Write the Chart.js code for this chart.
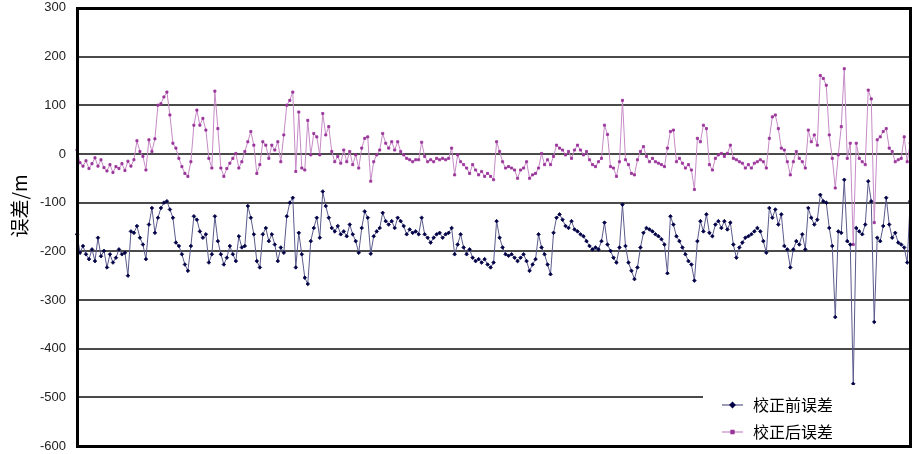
<!DOCTYPE html>
<html>
<head>
<meta charset="utf-8">
<script src="https://cdn.jsdelivr.net/npm/chart.js"></script>
<style>
  html, body { margin: 0; padding: 0; background: #fff; }
  #wrap { width: 915px; height: 454px; }
</style>
</head>
<body>
<div id="wrap"><canvas id="c" width="915" height="454"></canvas></div>
<script>
// 数据：校正前 / 校正后 误差 (m)
const seriesNames = ['校正前误差', '校正后误差'];
const yTicks = [300, 200, 100, 0, -100, -200, -300, -400, -500, -600];
const yTitle = '误差/m';

const before = [
  -165,-203,-189,-206,-216,-196,-220,-172,-210,-199,
  -233,-206,-223,-213,-196,-206,-203,-250,-159,-162,
  -148,-172,-186,-216,-145,-111,-162,-131,-111,-100,
  -97,-114,-131,-182,-189,-206,-227,-240,-189,-128,
  -135,-159,-172,-165,-223,-206,-128,-179,-206,-227,
  -213,-189,-206,-220,-169,-192,-189,-107,-131,-165,
  -220,-233,-165,-152,-179,-165,-186,-220,-192,-203,
  -128,-100,-90,-233,-162,-206,-254,-267,-179,-152,
  -131,-172,-77,-107,-131,-152,-159,-148,-165,-159,
  -169,-145,-165,-179,-203,-152,-118,-131,-205,-169,
  -159,-152,-121,-138,-145,-138,-152,-131,-138,-148,
  -165,-155,-162,-159,-165,-131,-165,-172,-182,-172,
  -165,-162,-172,-165,-162,-152,-206,-186,-165,-192,
  -206,-196,-213,-220,-216,-223,-216,-227,-233,-223,
  -138,-172,-192,-206,-209,-206,-213,-220,-213,-206,
  -220,-240,-227,-216,-165,-192,-206,-227,-247,-162,
  -131,-124,-135,-148,-152,-138,-155,-159,-165,-169,
  -179,-189,-196,-192,-196,-179,-141,-186,-199,-213,
  -223,-192,-104,-189,-223,-240,-257,-233,-192,-162,
  -152,-155,-159,-165,-169,-175,-186,-245,-128,-145,
  -169,-179,-192,-206,-220,-227,-260,-179,-138,-159,
  -124,-162,-169,-145,-138,-152,-138,-155,-141,-186,
  -213,-192,-182,-172,-169,-165,-159,-152,-159,-179,
  -203,-111,-131,-114,-145,-124,-189,-196,-233,-196,
  -179,-186,-165,-196,-111,-131,-145,-135,-84,-97,
  -100,-152,-189,-335,-159,-162,-53,-179,-186,-472,
  -152,-159,-165,-145,-56,-97,-345,-172,-179,-148,
  -90,-145,-172,-162,-182,-186,-192,-223,-97
];

const after = [
  8,-18,-25,-14,-30,-20,-8,-25,-12,-28,
  -35,-22,-38,-26,-30,-20,-34,-15,-25,-12,
  27,5,-5,-33,29,5,31,100,103,117,
  127,80,22,12,-9,-26,-40,-46,-16,59,
  90,59,73,49,-9,-29,129,52,-29,-46,
  -30,-19,-9,1,-29,-16,5,25,46,18,
  -40,-22,25,18,-9,18,8,25,-16,39,
  100,110,127,-36,86,-29,-33,69,-2,42,
  35,-2,83,39,56,5,-16,-5,-19,8,
  -16,5,-22,-2,-29,12,32,35,-56,-16,
  -2,8,42,22,12,25,8,25,5,-2,
  -9,-12,-16,-12,-12,24,-5,-16,-12,-16,
  -9,-12,-9,-12,-9,12,-43,-2,-16,-22,
  -29,-40,-22,-33,-43,-36,-46,-40,-46,-53,
  25,5,-16,-29,-26,-29,-33,-50,-33,-29,
  -16,-50,-43,-40,-29,1,-22,-12,-22,-5,
  18,12,8,-2,5,-9,8,18,8,-2,
  5,-12,-22,-26,-16,-9,59,40,-26,-29,
  -46,-16,110,-12,-22,-40,-43,-12,5,15,
  -5,-16,-9,-16,-19,-22,-26,12,46,49,
  -16,-9,-19,-29,-22,-33,-73,32,25,59,
  52,-22,-33,-9,-2,1,-5,1,18,-9,
  -12,-16,-19,-29,-22,-29,-19,-16,-12,-16,
  -29,32,76,80,52,12,8,-16,-43,-16,
  5,-9,-16,-29,49,25,39,18,161,155,
  141,39,-9,-70,-2,56,175,-9,22,-186,
  22,-9,-16,-22,131,113,-141,29,35,46,
  52,12,5,-16,-12,-9,35,-16,22
];

// 采样序号
const samples = before.map((_, i) => i + 1);

const navyLine = '#5a5a8c', navyDot = '#000046';
const purpleLine = '#c68ac6', purpleDot = '#993399';

// 网格线、边框、坐标轴标题和图例
const decor = {
  id: 'decor',
  beforeDatasetsDraw(chart) {
    const ctx = chart.ctx;
    const a = chart.chartArea;
    const y = chart.scales.y;
    ctx.save();
    ctx.fillStyle = '#4a4a4a';
    yTicks.forEach(v => {
      const py = Math.round(y.getPixelForValue(v));
      ctx.fillRect(a.left, py - 1, a.right - a.left, 2);
    });
    ctx.restore();
  },
  afterDatasetsDraw(chart) {
    const ctx = chart.ctx;
    const a = chart.chartArea;
    ctx.save();
    // 图例
    ctx.fillStyle = '#fff';
    ctx.fillRect(703, 385, a.right - 703, a.bottom - 385);
    const items = [
      { y: 405, line: navyLine, dot: navyDot, style: 'rectRot', r: 2.6 },
      { y: 432, line: purpleLine, dot: purpleDot, style: 'rect', r: 2.2 }
    ];
    items.forEach((it, k) => {
      ctx.strokeStyle = it.line;
      ctx.lineWidth = 1.2;
      ctx.beginPath();
      ctx.moveTo(722, it.y);
      ctx.lineTo(743, it.y);
      ctx.stroke();
      ctx.fillStyle = it.dot;
      ctx.strokeStyle = it.dot;
      Chart.helpers.drawPoint(ctx, { pointStyle: it.style, radius: it.r, borderWidth: 1 }, 732.5, it.y);
      ctx.fillStyle = '#000';
      ctx.font = '16px "Noto Sans CJK SC"';
      ctx.textBaseline = 'middle';
      ctx.textAlign = 'left';
      ctx.fillText(chart.data.datasets[k].label, 753, it.y);
    });
    // 边框
    const l = Math.round(a.left), t = Math.round(a.top);
    const r = Math.round(a.right), b = Math.round(a.bottom);
    ctx.fillStyle = '#000';
    ctx.fillRect(l - 1, t - 1, 3, b - t + 3);
    ctx.fillRect(r - 1, t - 1, 3, b - t + 3);
    ctx.fillRect(l - 1, t - 1, r - l + 3, 3);
    ctx.fillRect(l - 1, b - 1, r - l + 3, 3);
    // 纵轴标题
    ctx.translate(20, 206);
    ctx.rotate(-Math.PI / 2);
    ctx.fillStyle = '#000';
    ctx.font = '19px "Noto Sans CJK SC"';
    ctx.textAlign = 'center';
    ctx.textBaseline = 'middle';
    ctx.fillText(yTitle, 0, 0);
    ctx.restore();
  }
};

new Chart(document.getElementById('c'), {
  type: 'line',
  data: {
    labels: samples,
    datasets: [
      {
        label: seriesNames[0],
        data: before,
        borderColor: navyLine,
        borderWidth: 1,
        pointStyle: 'rectRot',
        pointRadius: 1.8,
        pointBorderWidth: 0.8,
        pointBackgroundColor: navyDot,
        pointBorderColor: navyDot,
        tension: 0
      },
      {
        label: seriesNames[1],
        data: after,
        borderColor: purpleLine,
        borderWidth: 1,
        pointStyle: 'rect',
        pointRadius: 1.5,
        pointBorderWidth: 0.8,
        pointBackgroundColor: purpleDot,
        pointBorderColor: purpleDot,
        tension: 0
      }
    ]
  },
  options: {
    responsive: false,
    animation: false,
    devicePixelRatio: 1,
    layout: { padding: { left: 0, right: 3, top: 6, bottom: 7 } },
    plugins: { legend: { display: false }, tooltip: { enabled: false } },
    scales: {
      x: { display: false, offset: false },
      y: {
        min: -600,
        max: 300,
        afterBuildTicks: s => { s.ticks = yTicks.map(v => ({ value: v })); },
        afterFit: s => { s.width = 77; },
        border: { display: false },
        grid: { display: true, drawOnChartArea: false, drawTicks: true, tickLength: 11, color: 'rgba(0,0,0,0)' },
        ticks: {
          color: '#222',
          padding: 0,
          font: { family: 'Liberation Sans', size: 13 }
        }
      }
    }
  },
  plugins: [decor]
});
</script>
</body>
</html>
